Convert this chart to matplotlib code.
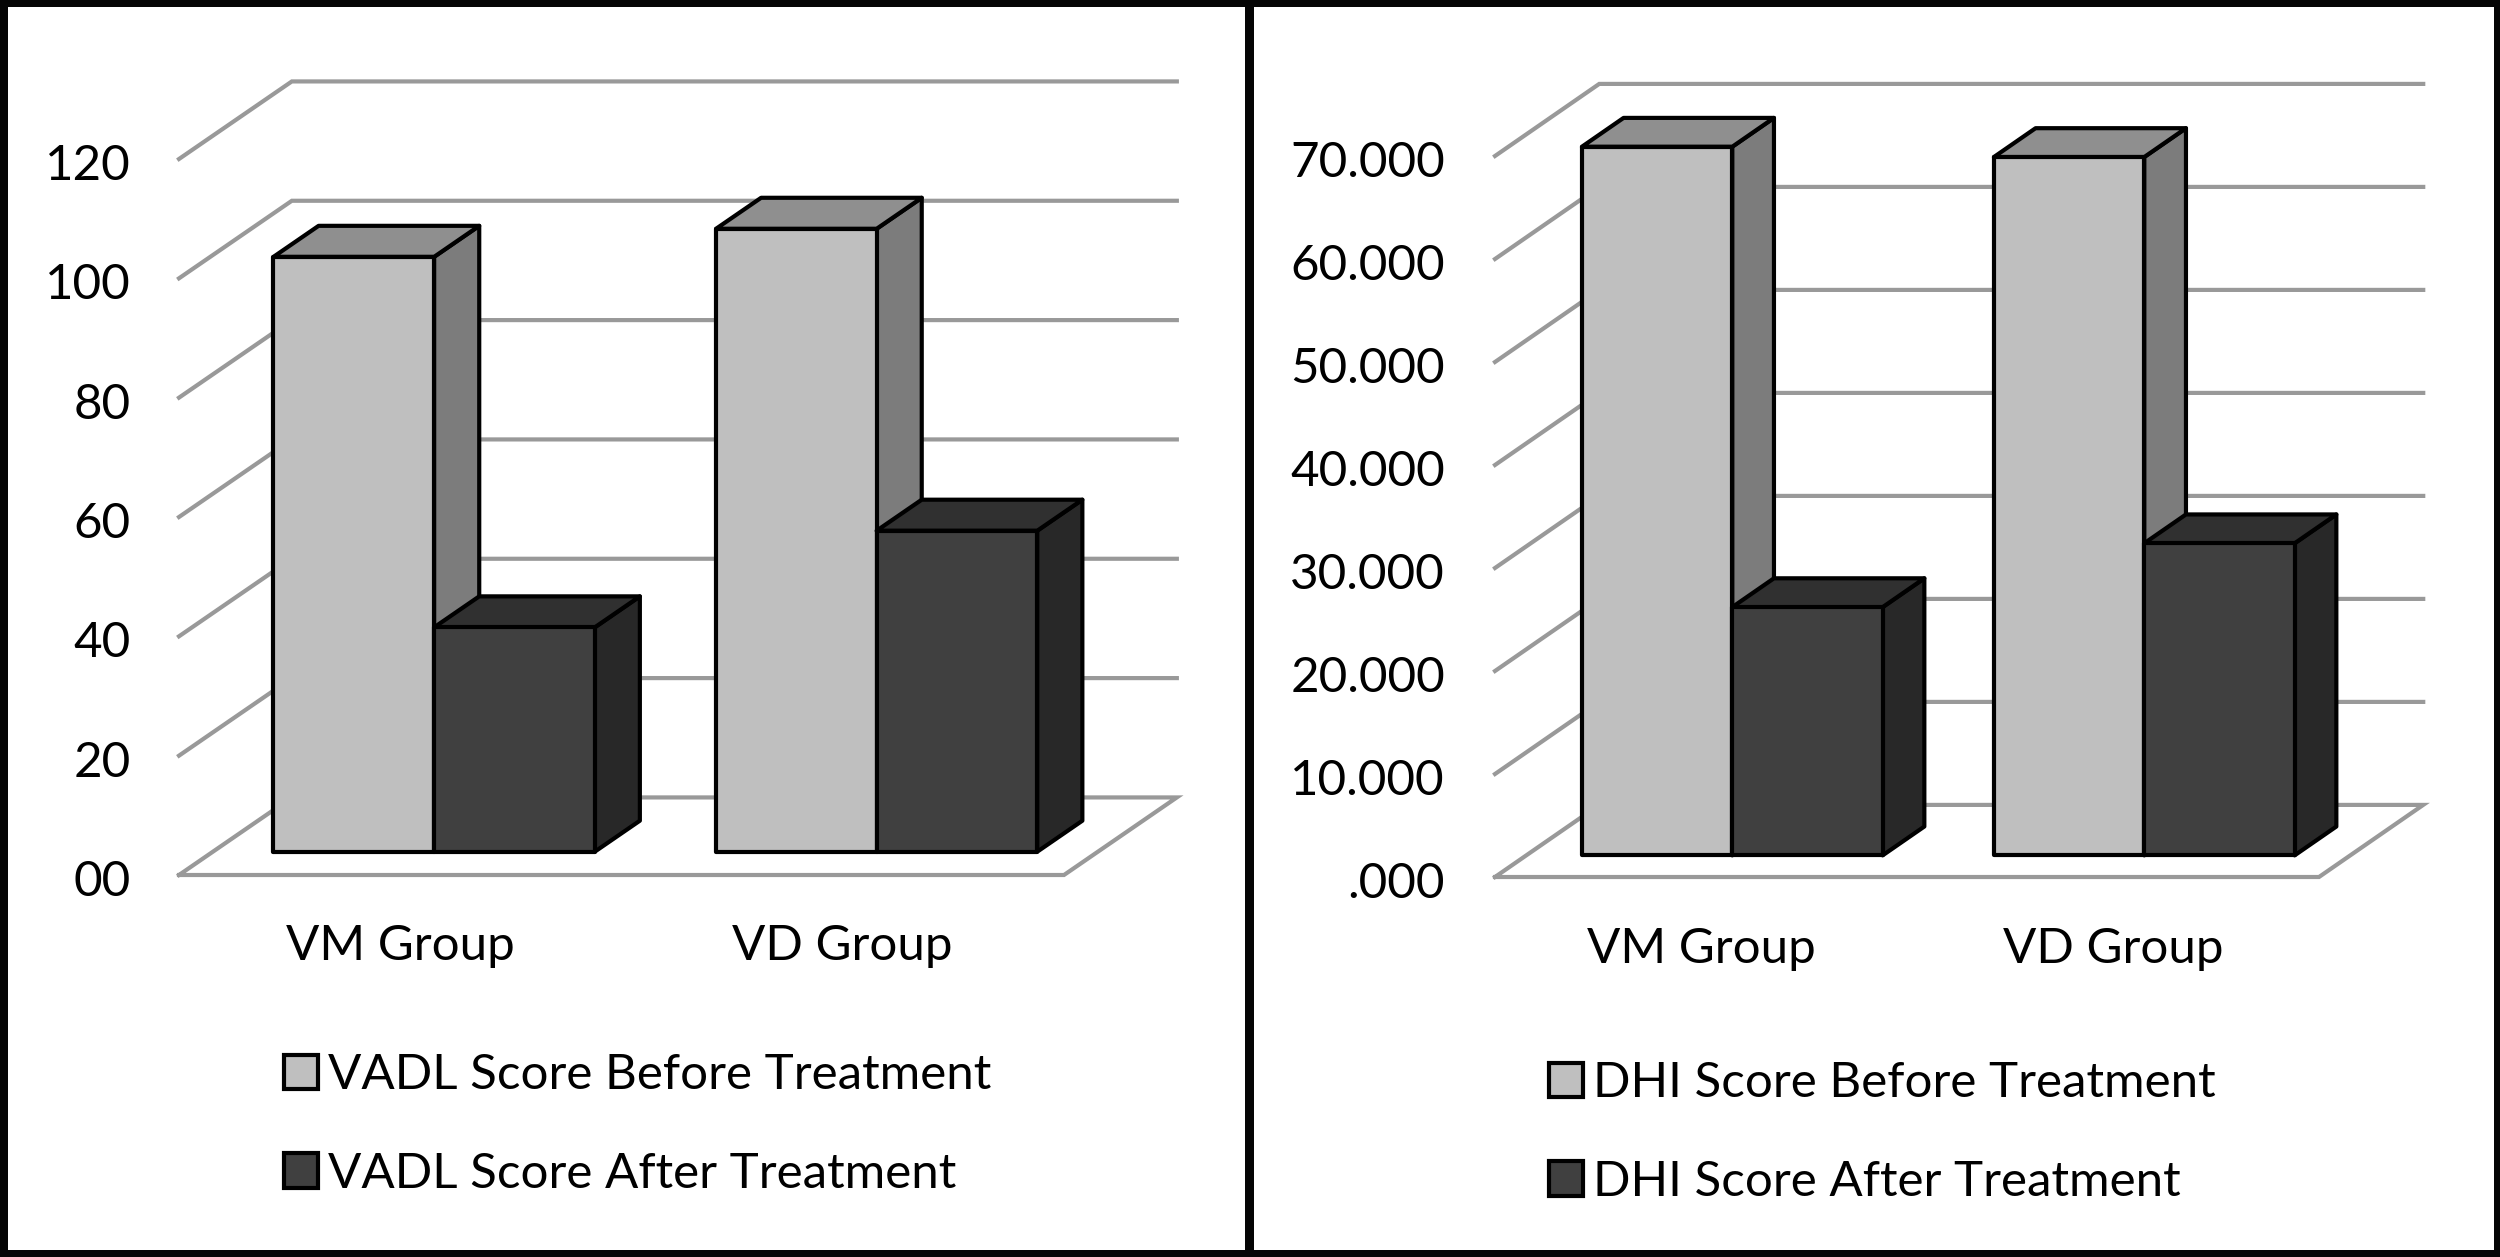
import matplotlib
matplotlib.use("Agg")
import matplotlib.pyplot as plt
from matplotlib.patches import Patch, Polygon, Rectangle
from matplotlib.transforms import ScaledTranslation

plt.rcParams['font.family'] = ['Lato', 'DejaVu Sans']

W, H = 2500, 1257

groups = ['VM Group', 'VD Group']

vadl_before = [99.7, 104.4]
vadl_after = [37.6, 53.8]
vadl_ticks = [0, 20, 40, 60, 80, 100, 120]
vadl_ticklabels = ['00', '20', '40', '60', '80', '100', '120']
vadl_legend = ['VADL Score Before Treatment', 'VADL Score After Treatment']

dhi_before = [68.8, 67.8]
dhi_after = [24.1, 30.3]
dhi_ticks = [0, 10, 20, 30, 40, 50, 60, 70]
dhi_ticklabels = ['.000', '10.000', '20.000', '30.000', '40.000', '50.000', '60.000', '70.000']
dhi_legend = ['DHI Score Before Treatment', 'DHI Score After Treatment']

GRID = '#999999'
BEFORE = ('#bfbfbf', '#8f8f8f', '#7c7c7c')  # front, top, side
AFTER = ('#404040', '#303030', '#282828')
EDGE = 3.0
FONT = 35.5


def px_axes(x0, x1, y_top, y_bottom):
    # axes box given in image pixels, y measured from the top
    return fig.add_axes([x0 / W, 1 - y_bottom / H, (x1 - x0) / W, (y_bottom - y_top) / H])


def draw_bar(ax, x0, x1, val, colors, dx, dy, d0=0.3, d1=0.7):
    front, top, side = colors
    # shift a point (x, y) back to depth d of the floor
    p = lambda x, y, d: (x + d * dx, y + d * dy)
    side_pts = [p(x1, 0, d0), p(x1, 0, d1), p(x1, val, d1), p(x1, val, d0)]
    top_pts = [p(x0, val, d0), p(x1, val, d0), p(x1, val, d1), p(x0, val, d1)]
    front_pts = [p(x0, 0, d0), p(x1, 0, d0), p(x1, val, d0), p(x0, val, d0)]
    for pts, c in ((side_pts, side), (top_pts, top), (front_pts, front)):
        ax.add_patch(Polygon(pts, closed=True, facecolor=c, edgecolor='black',
                             linewidth=EDGE, joinstyle='round', clip_on=False, zorder=3))


def draw_panel(ax, before, after, ticks, ticklabels, legend, dx, dy, bar_w, pad, leg_xy, leg_space):
    ax.set_xlim(0, 2)
    ax.set_ylim(ticks[0], ticks[-1])
    for s in ax.spines.values():
        s.set_visible(False)
    ax.patch.set_visible(False)

    # floor and walls of the fake 3D box
    ax.plot([0, dx, 2 + dx, 2, 0], [0, dy, dy, 0, 0], color=GRID, lw=3,
            clip_on=False, zorder=1, solid_joinstyle='miter')
    for t in ticks[1:]:
        ax.plot([0, dx, 2 + dx], [t, t + dy, t + dy], color=GRID, lw=3,
                clip_on=False, zorder=1, solid_joinstyle='miter')

    for i in range(len(before)):
        c = i + 0.5
        draw_bar(ax, c - bar_w, c, before[i], BEFORE, dx, dy)
        draw_bar(ax, c, c + bar_w, after[i], AFTER, dx, dy)

    ax.set_yticks(ticks, ticklabels, fontsize=FONT)
    ax.set_xticks([0.5, 1.5], groups, fontsize=FONT)
    ax.tick_params(axis='y', length=0, pad=pad)
    ax.tick_params(axis='x', length=0, pad=pad)
    # labels sit a little under their tick in the original
    nudge = ScaledTranslation(0, -3 / 100, fig.dpi_scale_trans)
    for lab in ax.get_yticklabels():
        lab.set_transform(lab.get_transform() + nudge)

    handles = [Patch(facecolor=BEFORE[0], edgecolor='black', linewidth=3),
               Patch(facecolor=AFTER[0], edgecolor='black', linewidth=3)]
    fig.legend(handles, legend, loc='upper left',
               bbox_to_anchor=(leg_xy[0] / W, 1 - leg_xy[1] / H),
               frameon=False, fontsize=FONT, handlelength=0.69, handleheight=0.69,
               handletextpad=0.2, borderpad=0, borderaxespad=0, labelspacing=leg_space)


fig = plt.figure(figsize=(W / 100, H / 100), dpi=100, facecolor='white')

ax1 = px_axes(179, 1064, 159, 875)
draw_panel(ax1, vadl_before, vadl_after, vadl_ticks, vadl_ticklabels, vadl_legend,
           dx=0.255, dy=13.0, bar_w=0.363, pad=35, leg_xy=(284, 1053), leg_space=1.11)

ax2 = px_axes(1495, 2319, 156, 877)
draw_panel(ax2, dhi_before, dhi_after, dhi_ticks, dhi_ticklabels, dhi_legend,
           dx=0.253, dy=7.0, bar_w=0.365, pad=36, leg_xy=(1549, 1061), leg_space=1.11)

# black frame round both panels
frame = [(0, 0, W, 7), (0, H - 7, W, 7), (0, 0, 7.5, H), (W - 6, 0, 6, H), (1245, 0, 9, H)]
for x, y, w, h in frame:
    fig.add_artist(Rectangle((x / W, 1 - (y + h) / H), w / W, h / H, transform=fig.transFigure,
                             facecolor='#050505', edgecolor='none', zorder=10))

fig.savefig('out.png', dpi=100)
